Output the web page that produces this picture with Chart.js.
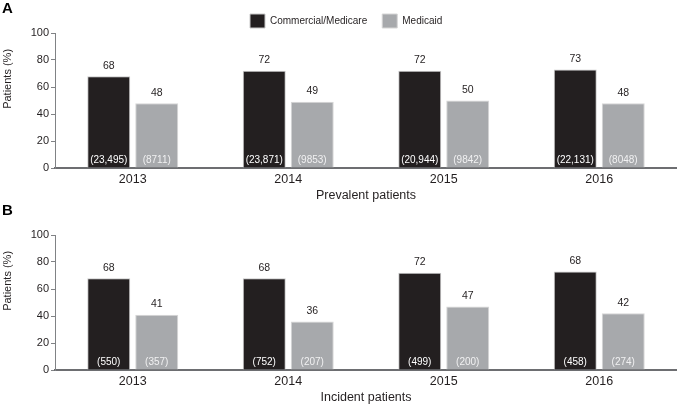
<!DOCTYPE html>
<html>
<head>
<meta charset="utf-8">
<script src="https://cdn.jsdelivr.net/npm/chart.js@4.4.1/dist/chart.umd.min.js"></script>
<style>
    body { margin: 0; background: #fff; }
    .panel { position: absolute; left: 0; width: 677px; height: 202px; }
    #panelA { top: 0; }
    #panelB { top: 202px; }
</style>
</head>
<body>
<div class="panel" id="panelA"><canvas id="prevalentChart"></canvas></div>
<div class="panel" id="panelB"><canvas id="incidentChart"></canvas></div>
<script>
const years = ['2013', '2014', '2015', '2016'];
const seriesNames = ['Commercial/Medicare', 'Medicaid'];
const yTicks = [0, 20, 40, 60, 80, 100];

// A: prevalent patients (% and n)
const prevalentCommercial = [68, 72, 72, 73];
const prevalentMedicaid = [48, 49, 50, 48];
const prevalentCommercialN = [23495, 23871, 20944, 22131];
const prevalentMedicaidN = [8711, 9853, 9842, 8048];

// B: incident patients
const incidentCommercial = [68, 68, 72, 73];
// printed values; the original figure labels the 2016 bar "68" although it is drawn at ~73
const incidentCommercialPrinted = [68, 68, 72, 68];
const incidentMedicaid = [41, 36, 47, 42];
const incidentCommercialN = [550, 752, 499, 458];
const incidentMedicaidN = [357, 207, 200, 274];

const FONT = '"Liberation Sans", Arial, Helvetica, sans-serif';
const DARK = '#231f20';
const GREY = '#a7a9ac';

function fmtN(n) {
    return '(' + (n >= 10000 ? n.toLocaleString('en-US') : String(n)) + ')';
}

// value labels above the bars, counts inside at the bottom, y title, panel letter
const barLabels = {
    id: 'barLabels',
    afterDatasetsDraw(chart, args, opts) {
        const ctx = chart.ctx;
        const area = chart.chartArea;
        ctx.save();
        ctx.textAlign = 'center';
        chart.data.datasets.forEach((ds, i) => {
            chart.getDatasetMeta(i).data.forEach((bar, j) => {
                ctx.fillStyle = DARK;
                ctx.font = '10.5px ' + FONT;
                ctx.textBaseline = 'bottom';
                ctx.fillText(ds.printed[j], bar.x, bar.y - 5);
                ctx.fillStyle = ds.countColor;
                ctx.font = '10px ' + FONT;
                ctx.textBaseline = 'middle';
                ctx.fillText(fmtN(ds.counts[j]), bar.x, bar.base - 7);
            });
        });

        // y axis title sits a bit above the middle in the figure
        ctx.save();
        ctx.translate(8, area.top + (area.bottom - area.top) * 0.34);
        ctx.rotate(-Math.PI / 2);
        ctx.fillStyle = DARK;
        ctx.font = '11px ' + FONT;
        ctx.textBaseline = 'middle';
        ctx.fillText(opts.yTitle, 0, 0);
        ctx.restore();

        ctx.fillStyle = '#000';
        ctx.font = 'bold 15px ' + FONT;
        ctx.textAlign = 'left';
        ctx.textBaseline = 'top';
        ctx.fillText(opts.letter, 2, 1);
        ctx.restore();
    }
};

// move the legend into the space above the plot
const legendPlace = {
    id: 'legendPlace',
    afterLayout(chart) {
        const lg = chart.legend;
        if (!lg || !chart.options.plugins.legend.display) return;
        const w = lg.right - lg.left;
        lg.left = 235;
        lg.right = lg.left + w;
        lg.top = -1;
    }
};

function makeChart(id, letter, title, commercial, commercialPrinted, medicaid, commercialN, medicaidN, showLegend) {
    const ctx = document.getElementById(id).getContext('2d');
    return new Chart(ctx, {
        type: 'bar',
        data: {
            labels: years,
            datasets: [{
                label: seriesNames[0],
                data: commercial,
                printed: commercialPrinted,
                counts: commercialN,
                countColor: '#ffffff',
                backgroundColor: DARK,
                borderColor: '#c8c8c8',
                borderWidth: 1
            }, {
                label: seriesNames[1],
                data: medicaid,
                printed: medicaid,
                counts: medicaidN,
                countColor: '#f1f1f2',
                backgroundColor: GREY,
                borderColor: '#d6d6d6',
                borderWidth: 1
            }]
        },
        plugins: [barLabels, legendPlace],
        options: {
            responsive: true,
            maintainAspectRatio: false,
            animation: false,
            layout: {
                // the legend box is 39px tall, the plot starts at ~33px
                padding: { top: showLegend ? -6 : 33, left: 0, right: 0, bottom: 0 }
            },
            datasets: {
                bar: {
                    categoryPercentage: 0.617,
                    barPercentage: 0.896
                }
            },
            plugins: {
                barLabels: { letter: letter, yTitle: 'Patients (%)' },
                tooltip: { enabled: false },
                legend: {
                    display: showLegend,
                    position: 'top',
                    align: 'start',
                    labels: {
                        boxWidth: 15,
                        boxHeight: 14,
                        padding: 15,
                        color: DARK,
                        font: { family: FONT, size: 10 }
                    }
                }
            },
            scales: {
                x: {
                    afterFit: (scale) => {
                        scale.height = 34;
                    },
                    grid: { display: false, drawTicks: false },
                    border: { display: true, color: '#6d6e71', width: 2 },
                    ticks: {
                        padding: 4,
                        color: DARK,
                        font: { family: FONT, size: 12.5 }
                    },
                    title: {
                        display: true,
                        text: title,
                        color: DARK,
                        padding: { top: 0, bottom: -1 },
                        font: { family: FONT, size: 12.5 }
                    }
                },
                y: {
                    min: 0,
                    max: 100,
                    afterBuildTicks: (scale) => {
                        scale.ticks = yTicks.map(v => ({ value: v }));
                    },
                    afterFit: (scale) => {
                        scale.width = 55;
                    },
                    grid: {
                        display: true,
                        drawOnChartArea: false,
                        drawTicks: true,
                        tickLength: 4,
                        color: '#808285'
                    },
                    border: { display: true, color: '#808285', width: 1 },
                    ticks: {
                        padding: 2,
                        color: DARK,
                        font: { family: FONT, size: 11 }
                    }
                }
            }
        }
    });
}

document.addEventListener('DOMContentLoaded', function() {
    makeChart('prevalentChart', 'A', 'Prevalent patients',
        prevalentCommercial, prevalentCommercial, prevalentMedicaid,
        prevalentCommercialN, prevalentMedicaidN, true);
    makeChart('incidentChart', 'B', 'Incident patients',
        incidentCommercial, incidentCommercialPrinted, incidentMedicaid,
        incidentCommercialN, incidentMedicaidN, false);
});
</script>
</body>
</html>
